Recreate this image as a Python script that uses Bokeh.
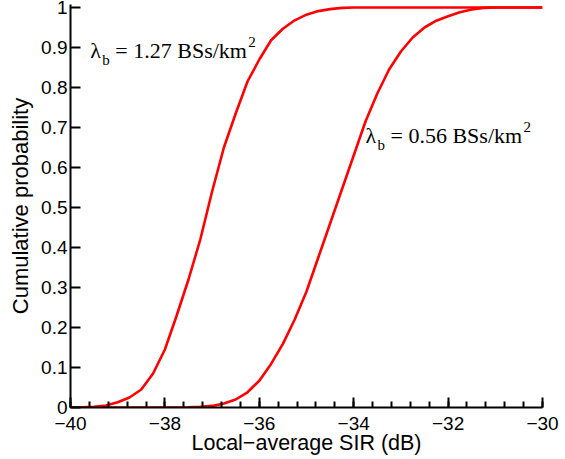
from bokeh.plotting import figure
from bokeh.models import Label, FixedTicker, CustomJSTickFormatter, Range1d
from bokeh.embed import file_html
from bokeh.resources import INLINE

# Local-average SIR (dB)
sir_db = [-40.0, -39.75, -39.5, -39.25, -39.0, -38.75, -38.5, -38.25, -38.0, -37.75,
          -37.5, -37.25, -37.0, -36.75, -36.5, -36.25, -36.0, -35.75, -35.5, -35.25,
          -35.0, -34.75, -34.5, -34.25, -34.0, -33.75, -33.5, -33.25, -33.0, -32.75,
          -32.5, -32.25, -32.0, -31.75, -31.5, -31.25, -31.0, -30.75, -30.5, -30.25,
          -30.0]

# CDF for lambda_b = 1.27 BSs/km^2
cdf_127 = [0.0, 0.0005, 0.0015, 0.005, 0.013, 0.025, 0.045, 0.085, 0.145, 0.23,
           0.32, 0.42, 0.54, 0.65, 0.735, 0.815, 0.87, 0.918, 0.947, 0.968,
           0.982, 0.991, 0.996, 0.999, 1.0, 1.0, 1.0, 1.0, 1.0, 1.0,
           1.0, 1.0, 1.0, 1.0, 1.0, 1.0, 1.0, 1.0, 1.0, 1.0,
           1.0]

# CDF for lambda_b = 0.56 BSs/km^2
cdf_056 = [0.0, 0.0, 0.0, 0.0, 0.0, 0.0, 0.0, 0.0, 0.0, 0.0,
           0.0005, 0.0015, 0.004, 0.01, 0.02, 0.038, 0.067, 0.109, 0.159, 0.22,
           0.29, 0.375, 0.46, 0.545, 0.63, 0.715, 0.785, 0.845, 0.89, 0.925,
           0.95, 0.967, 0.978, 0.988, 0.995, 0.999, 1.0, 1.0, 1.0, 1.0,
           1.0]

x_ticks = [-40, -38, -36, -34, -32, -30]
y_ticks = [0, 0.1, 0.2, 0.3, 0.4, 0.5, 0.6, 0.7, 0.8, 0.9, 1.0]

p = figure(width=565, height=459, output_backend="svg", toolbar_location=None,
           x_range=Range1d(-40, -30), y_range=Range1d(0, 1.0075),
           min_border_left=70, min_border_right=23, min_border_top=4,
           min_border_bottom=52)
p.outline_line_color = None
p.grid.visible = False
p.background_fill_color = "white"
p.border_fill_color = "white"

p.line(sir_db, cdf_127, line_color="#ff0000", line_width=2.6)
p.line(sir_db, cdf_056, line_color="#ff0000", line_width=2.6)

sans = "Liberation Sans"
for ax in (p.xaxis[0], p.yaxis[0]):
    ax.axis_line_width = 2
    ax.axis_line_color = "black"
    ax.major_tick_line_width = 2
    ax.minor_tick_line_width = 2
    ax.major_tick_in = 10
    ax.major_tick_out = 0
    ax.minor_tick_in = 6
    ax.minor_tick_out = 0
    ax.major_label_text_font = sans
    ax.major_label_text_font_size = "19px"
    ax.major_label_text_color = "black"
    ax.axis_label_text_font = sans
    ax.axis_label_text_font_style = "normal"
    ax.axis_label_text_color = "black"

p.xaxis[0].axis_label_text_font_size = "21.5px"
p.yaxis[0].axis_label_text_font_size = "22px"

xt = FixedTicker(ticks=x_ticks, minor_ticks=[-40 + 0.4 * i for i in range(26)])
p.xaxis[0].ticker = xt
p.xaxis[0].formatter = CustomJSTickFormatter(
    code="return (tick < 0 ? '\u2212' : '') + Math.abs(tick).toFixed(0);")
p.xaxis[0].major_label_standoff = 9
p.xaxis[0].axis_label = "Local\u2212average SIR (dB)"
p.xaxis[0].axis_label_standoff = -2

p.yaxis[0].ticker = FixedTicker(ticks=y_ticks, minor_ticks=[])
p.yaxis[0].formatter = CustomJSTickFormatter(
    code="return tick.toFixed(1).replace(/\\.0$/, '');")
p.yaxis[0].major_label_standoff = 3
p.yaxis[0].axis_label = "Cumulative probability"
p.yaxis[0].axis_label_standoff = 5

serif = "Liberation Serif"

def annot(x, y, txt):
    p.add_layout(Label(x=x, y=y, text="\u03bb", text_font=serif, text_font_size="22px",
                       text_baseline="alphabetic", text_color="black"))
    p.add_layout(Label(x=x, y=y, x_offset=12, y_offset=-9, text="b", text_font=serif,
                       text_font_size="15px", text_baseline="alphabetic",
                       text_color="black"))
    p.add_layout(Label(x=x, y=y, x_offset=25, text=txt, text_font=serif,
                       text_font_size="22px", text_baseline="alphabetic",
                       text_color="black"))
    p.add_layout(Label(x=x, y=y, x_offset=158, y_offset=9, text="2", text_font=serif,
                       text_font_size="15px", text_baseline="alphabetic",
                       text_color="black"))

annot(-39.58, 0.8925, "= 1.27 BSs/km")
annot(-33.75, 0.68, "= 0.56 BSs/km")

open("out.html", "w").write(file_html(p, INLINE))
